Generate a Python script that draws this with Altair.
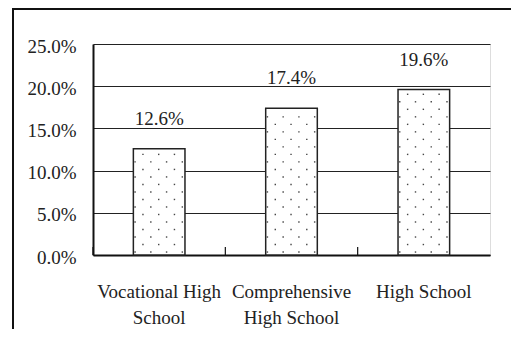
import altair as alt
import pandas as pd

categories = ["Vocational High School", "Comprehensive High School", "High School"]
label_lines = [["Vocational High", "School"], ["Comprehensive", "High School"], ["High School"]]
values = [0.126, 0.174, 0.196]
y_ticks = [0.0, 0.05, 0.10, 0.15, 0.20, 0.25]

df = pd.DataFrame({"cat": categories, "value": values, "idx": list(range(len(categories)))})

FONT = "Times New Roman"
W, H = 397, 211

label_expr = " : ".join(
    f"datum.value == '{c}' ? {lines!r}" for c, lines in zip(categories, label_lines)
) + " : datum.value"

band = alt.Scale(type="band", domain=categories, paddingInner=0, paddingOuter=0)
yscale = alt.Scale(domain=[0, 0.25], nice=False, zero=True)

xaxis = alt.Axis(labelAngle=0, labelExpr=label_expr, ticks=False,
                 domainColor="#111", domainWidth=2, labelFont=FONT,
                 labelFontSize=19, labelColor="#222", labelPadding=27,
                 labelLineHeight=26, labelBaseline="top", labelLimit=300)

bars = alt.Chart(df).mark_bar(
    width={"band": 0.39}, fill="white", stroke="#222", strokeWidth=1.5
).encode(
    x=alt.X("cat:N", scale=band, sort=categories, title=None, axis=xaxis),
    y=alt.Y("value:Q", scale=yscale, title=None,
            axis=alt.Axis(values=y_ticks, format=".1%", grid=True, gridColor="#222",
                          gridWidth=1, domainColor="#111", domainWidth=2, ticks=False,
                          labelPadding=17, labelFont=FONT, labelFontSize=19,
                          labelColor="#222", labelOffset=2)),
)

texts = alt.Chart(df).mark_text(
    dy=-24, font=FONT, fontSize=19, color="#222", baseline="alphabetic"
).encode(
    x=alt.X("cat:N", scale=band, sort=categories, title=None, axis=xaxis),
    y=alt.Y("value:Q", scale=yscale, title=None),
    text=alt.Text("value:Q", format=".1%"),
)

xq = alt.Scale(domain=[0, 3], nice=False, zero=False)

dots = alt.Chart(df).transform_calculate(
    r="sequence(0, ceil(datum.value / 0.0089))"
).transform_flatten(["r"]).transform_calculate(
    yd="0.0035 + datum.r * 0.0089"
).transform_filter(
    "datum.yd < datum.value - 0.0015"
).transform_calculate(
    c="sequence(0, 4)"
).transform_flatten(["c"]).transform_calculate(
    xd="datum.idx + 0.318 + datum.c * 0.119 + (datum.r % 2) * 0.0595"
).transform_filter(
    "datum.xd < datum.idx + 0.685"
).mark_square(size=2, color="#333", opacity=0.9).encode(
    x=alt.X("xd:Q", scale=xq, axis=None),
    y=alt.Y("yd:Q", scale=yscale),
)

ticks = alt.Chart(df).mark_rule(color="#111", strokeWidth=1.2).encode(
    x=alt.X("idx:Q", scale=xq, axis=None),
    y=alt.value(H),
    y2=alt.value(H - 8),
)

one = alt.Data(values=[{}])
frame_top = alt.Chart(one).mark_rule(color="#111", strokeWidth=2).encode(
    x=alt.value(-80), x2=alt.value(420), y=alt.value(-35)
)
frame_left = alt.Chart(one).mark_rule(color="#111", strokeWidth=2).encode(
    x=alt.value(-80), y=alt.value(-36), y2=alt.value(290)
)

chart = alt.layer(
    alt.layer(bars, texts),
    alt.layer(dots, ticks, frame_top, frame_left),
).resolve_scale(x="independent").properties(
    width=W, height=H,
    autosize=alt.AutoSizeParams(type="none"),
    padding={"left": 85, "top": 36, "right": 21, "bottom": 74},
).configure_view(stroke="#777", strokeWidth=1).configure(background="white")

chart.save("out.html", embed_options={"renderer": "svg", "actions": False})
